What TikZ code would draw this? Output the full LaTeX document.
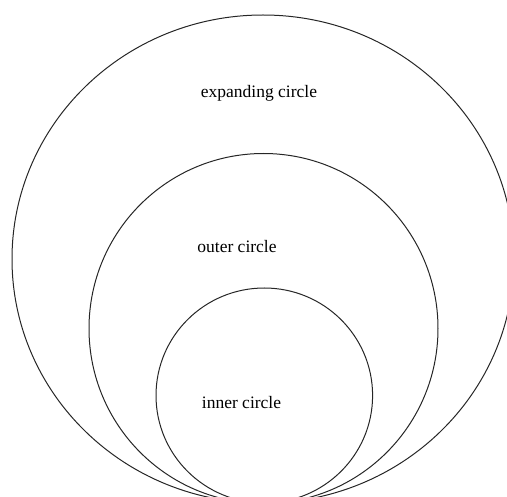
\documentclass[tikz,border=0pt]{standalone}
\usepackage{fontspec}
\setmainfont{Liberation Serif}
\begin{document}
\begin{tikzpicture}[x=1pt,y=-1pt,
  ring/.style={draw=black!85,line width=1pt},
  lbl/.style={font=\fontsize{17.5}{20}\selectfont,text=black,inner sep=0pt}]
\useasboundingbox (0,0) rectangle (507,497);
\clip (0,0) rectangle (507,497);
\draw[ring] (263,259) ellipse [x radius=251, y radius=244];
\draw[ring] (263.5,328.5) ellipse [x radius=174.5, y radius=175];
\draw[ring] (264.3,395.5) ellipse [x radius=108.3, y radius=107.5];
\node[lbl] (exp) at (259,93) {expanding circle};
\node[lbl] (out) at (237,247) {outer circle};
\node[lbl] (inn) at (241.5,403) {inner circle};
\end{tikzpicture}
\end{document}
